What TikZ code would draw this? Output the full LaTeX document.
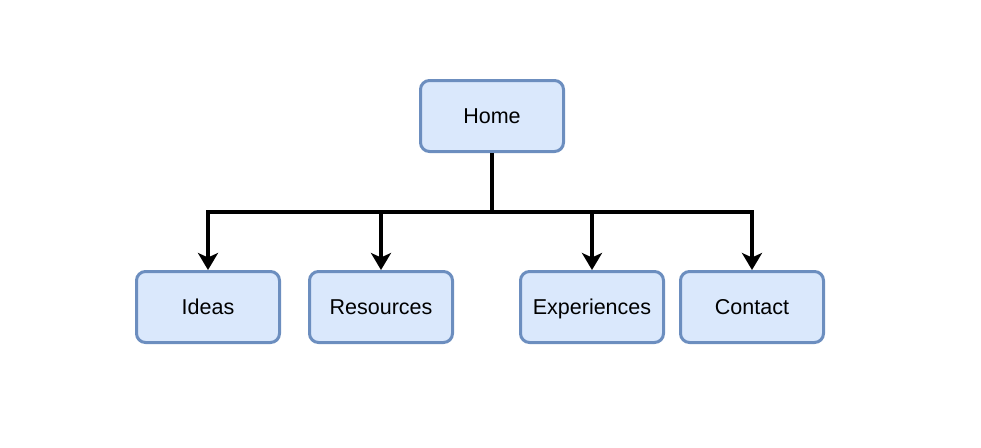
\documentclass[tikz,border=0pt]{standalone}
\usepackage{fontspec}
\setmainfont{Liberation Sans}
\usepackage{xcolor}
\usetikzlibrary{arrows.meta,positioning}
\definecolor{boxfill}{HTML}{DAE8FC}
\definecolor{boxline}{HTML}{6C8EBF}

\begin{document}
\begin{tikzpicture}[x=1pt,y=-1pt,line join=miter,
  page/.style={draw=boxline,fill=boxfill,line width=3pt,rounded corners=9pt,
    minimum width=143pt,minimum height=71pt,inner sep=0pt,
    text height=15.5pt,text depth=0pt,
    font=\fontsize{21.5}{25}\selectfont},
  link/.style={line width=3.6pt,black},
  >={Stealth[length=17pt,width=20pt,inset=4.5pt]}]
\useasboundingbox (0,0) rectangle (981,447);
% top page
\node[page] (home) at (492,116) {Home};
% sub pages
\node[page] (ideas) at (208,307) {Ideas};
\node[page] (resources) at (381,307) {Resources};
\node[page] (experiences) at (592,307) {Experiences};
\node[page] (contact) at (752,307) {Contact};
\coordinate (bus) at (492,212);
\draw[link] (home.south) -- (bus);
\foreach \p in {ideas,resources,experiences,contact}
  \draw[link,->] (bus) -| (\p.north);
\end{tikzpicture}
\end{document}
